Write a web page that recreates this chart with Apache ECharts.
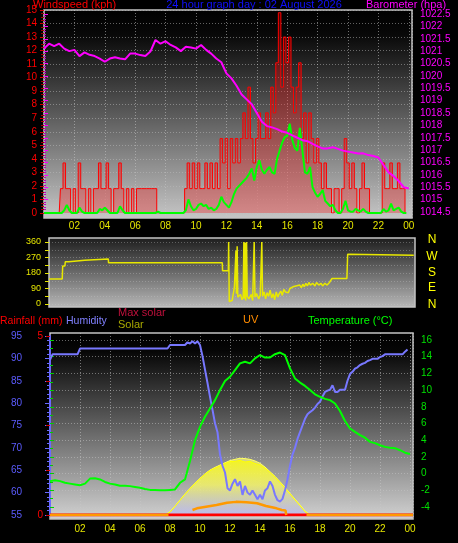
<!DOCTYPE html>
<html><head><meta charset="utf-8">
<script src="https://cdn.jsdelivr.net/npm/echarts@6/dist/echarts.min.js"></script>
<style>html,body{margin:0;padding:0;background:#000;}#c{width:458px;height:543px;}</style>
</head><body><div id="c"></div>
<script>
// ---------- tick labels ----------
const hourTickLabels = ['02','04','06','08','10','12','14','16','18','20','22','00'];
const compassLabels = ['N','W','S','E','N'];

// ---------- top panel: wind (kph), 10-minute values from 00:00 ----------
const windGust = [
 0,0,0,0,0,0,
 0,1.8,3.7,1.8,1.8,0,
 1.8,0,3.7,1.8,1.8,0,
 1.8,0,1.8,1.8,3.7,1.8,
 1.8,3.7,1.8,0,1.8,1.8,
 3.7,1.8,0,1.8,0,1.8,
 0,1.8,1.8,1.8,1.8,1.8,
 1.8,1.8,1.8,0,0,0,
 0,0,0,0,0,0,
 0,0,1.8,3.7,1.8,3.7,
 1.8,3.7,1.8,1.8,3.7,1.8,
 3.7,1.8,3.7,1.8,5.5,3.7,
 5.5,1.8,5.5,3.7,5.5,3.7,
 5.5,7.4,5.5,9.3,5.5,3.7,
 5.5,7.4,5.5,5.5,7.4,5.5,
 9.3,7.4,11.1,14.8,9.3,13,
 11.1,13,9.3,7.4,9.3,11.1,
 5.5,7.4,3.7,7.4,5.5,3.7,
 5.5,3.7,1.8,3.7,1.8,1.8,
 0,1.8,1.8,0,1.8,5.5,
 3.7,1.8,3.7,1.8,0,1.8,
 3.7,1.8,1.8,0,0,0,
 0,0,3.7,1.8,1.8,3.7,
 1.8,1.8,3.7,1.8,1.8,0
];
const windAverage = [
 0,0,0,0,0,0,
 0,0,0.2,0.6,0.2,0,
 0,0,0.4,0.1,0,0,
 0,0,0,0,0.3,0.2,
 0.4,0.2,0,0,0,0,
 0.5,0.2,0,0,0,0,
 0,0,0,0,0,0,
 0,0,0,0.1,0,0,
 0,0,0,0,0,0,
 0,0,0.2,1.0,0.5,0.2,
 0.3,0.6,0.7,0.5,0.6,0.3,
 0.4,0.2,0.3,0.6,1.2,0.8,
 0.6,0.4,0.8,1.4,1.8,2.0,
 2.2,2.4,2.6,2.9,3.3,2.4,
 3.4,3.9,3.2,2.9,3.2,3.4,
 3.0,2.9,4.0,4.6,5.2,5.6,
 5.7,6.6,5.4,4.8,4.6,6.3,
 4.6,3.0,2.9,3.4,1.9,1.5,
 1.2,1.4,1.7,0.9,0.7,0.5,
 0.6,0.2,0,0,0.3,0.9,
 0.2,0.1,0.1,0.3,0.2,0.1,
 0.3,0.1,0,0,0,0,
 0,0,0.3,0.1,0.2,0.7,
 0.2,0.3,0.4,0.1,0,0
];
// barometer (hPa), 20-minute values 00:00 .. 24:00
const barometer = [
 1021.1,1021.3,1021.2,1021.3,1021.1,1021.0,1021.05,1020.8,1020.95,1020.85,1020.8,1020.7,
 1020.57,1020.7,1020.75,1020.7,1020.67,1020.9,1020.9,1020.84,1020.8,1020.98,1021.45,1021.3,
 1021.4,1021.25,1021.15,1021.0,1021.18,1021.15,1021.1,1021.25,1021.05,1020.9,1020.7,1020.55,
 1020.1,1019.9,1019.6,1019.25,1019.05,1018.85,1018.5,1018.15,1017.97,1017.92,1017.85,1017.75,
 1017.7,1017.6,1017.5,1017.4,1017.36,1017.25,1017.15,1017.07,1017.07,1017.12,1017.05,1016.98,
 1016.94,1016.9,1016.86,1016.87,1016.8,1016.76,1016.7,1016.4,1016.1,1015.95,1015.75,1015.5,
 1015.45
];

// ---------- middle panel: wind direction [hour, degrees] ----------
const windDirection = [
 [0,145],[0.87,145],[0.9,221],[1.05,221],[1.07,245],[1.3,245],[1.32,254],[2.35,254],[2.37,262],[3.9,262],
 [3.92,239],[11.4,239],[11.42,193],[11.8,193],
 [11.82,360],[11.86,15],[11.95,10],[12.05,20],[12.1,15],[12.2,100],[12.25,95],[12.3,310],[12.33,60],
 [12.38,335],[12.42,40],[12.5,30],[12.6,55],[12.7,25],[12.78,40],[12.82,360],[12.86,30],[12.9,355],
 [12.94,20],[13.0,360],[13.04,45],[13.15,30],[13.3,55],[13.4,20],[13.5,360],[13.55,40],[13.65,60],
 [13.8,30],[13.9,50],[14.0,360],[14.05,45],
 [14.15,70],[14.25,30],[14.35,65],[14.45,45],[14.55,80],[14.65,35],[14.75,60],[14.85,25],[14.95,70],
 [15.05,40],[15.15,60],[15.25,75],[15.35,50],[15.45,85],[15.55,70],[15.65,80],[15.75,65],[15.85,90],
 [15.95,85],[16.05,100],[16.15,90],[16.25,105],[16.35,95],[16.5,110],[16.6,95],[16.7,115],[16.8,100],
 [16.9,120],[17.0,105],[17.1,125],[17.2,110],[17.35,120],[17.5,105],[17.6,125],[17.75,110],[17.9,120],
 [18.0,105],[18.15,120],[18.3,110],[18.45,125],[18.55,115],[18.62,148],[19.6,148],[19.65,289],[19.75,283],[24,283]
];

// ---------- bottom panel ----------
// humidity (%), 10-minute values from 00:00
const humidity = [
 89.7,90.9,90.9,90.9,90.9,90.9,
 90.9,90.9,90.9,90.9,90.9,90.9,
 92.2,92.2,92.2,92.2,92.2,92.2,
 92.2,92.2,92.2,92.2,92.2,92.2,
 92.2,92.2,92.2,92.2,92.2,92.2,
 92.2,92.2,92.2,92.2,92.2,92.2,
 92.2,92.2,92.2,92.2,92.2,92.2,
 92.2,92.2,92.2,92.2,92.2,92.2,
 93.0,93.0,93.0,93.0,93.0,93.0,
 93.0,93.6,93.3,93.8,93.3,93.8,
 93.0,90.5,87.5,84.5,81.4,78.5,
 75.5,73.5,68.5,66.0,64.5,61.0,
 60.5,62.0,63.0,61.5,62.5,59.5,
 61.5,60.0,59.5,60.5,59.5,58.5,
 59.5,58.5,60.5,61.0,62.5,61.5,
 59.5,58.3,58.0,58.6,60.5,63.0,
 66.0,68.5,70.0,72.0,73.5,75.0,
 76.5,77.5,78.0,78.4,79.0,79.8,
 80.3,81.5,82.5,82.8,83.0,84.0,
 82.5,82.5,83.0,83.0,83.0,85.0,
 86.5,87.0,87.7,88.0,88.5,88.8,
 89.0,89.4,89.6,89.9,89.9,89.9,
 90.3,90.5,90.9,90.9,90.9,90.9,
 90.9,90.9,90.9,90.9,91.5,92.0
];
// temperature (°C), 20-minute values 00:00 .. 24:00
const temperature = [
 -0.9,-0.8,-0.9,-1.1,-1.2,-1.3,-1.4,-1.2,-0.6,-0.55,-0.7,-1.0,
 -1.2,-1.3,-1.45,-1.45,-1.5,-1.6,-1.7,-1.85,-1.95,-1.95,-2.0,-2.0,
 -1.95,-1.9,-1.1,-0.7,1.5,4.0,5.6,6.8,7.8,8.8,10.0,11.1,
 11.6,12.4,13.2,13.4,13.2,13.8,14.2,13.9,13.9,14.3,14.5,14.2,
 12.6,11.4,10.9,10.5,10.0,9.5,9.2,8.95,8.8,8.4,7.5,6.3,
 5.4,5.0,4.6,4.3,3.8,3.65,3.4,3.2,3.1,3.05,2.8,2.5,
 2.35
];
// solar radiation (W/m²), 20-minute values from 07:40
const solarStartHour = 7 + 40/60;
const maxSolar = [0,18,50,84,118,149,178,205,230,251,266,279,292,304,311,317,315,311,302,289,268,242,216,186,154,121,88,56,22,0];
const solar    = [0,15,48,82,115,147,176,203,228,249,262,275,288,298,300,305,296,300,288,280,262,238,212,182,150,118,84,52,18,0];
const sunEvents = [7.67, 17.44];
// UV index [hour, value]; null = not drawn
const uvIndex = [
 [0,0],[7.9,0],[7.95,null],[9.5,0.42],[9.8,0.56],[10.4,0.7],[11.1,0.84],[11.8,1.03],[12.4,1.1],
 [13.1,1.06],[13.8,0.98],[14.4,0.75],[15.1,0.56],[15.45,0.42],[15.7,0.38],[15.75,0],[15.8,null],
 [17.1,0],[24.2,0]
];
// rainfall (mm) [hour, value]
const rainfall = [[0,0],[24.2,0]];

// ---------- helpers ----------
function series10(v){ return v.map((y,i)=>[i/6, y]); }
function series20(v, start){ return v.map((y,i)=>[(start||0)+i/3, y]); }
function nulls(d){ return d.map(p=>[p[0], p[1]===null?'-':p[1]]); }
const FONT = '"Liberation Sans", Arial, sans-serif';
function hourFmt(v){ const k=Math.round(v/2); if(Math.abs(v-2*k)>0.01||k<1||k>12) return ''; return hourTickLabels[k-1]; }
function numFmt(v){ return (Math.round(v*10)/10).toString(); }
function grad(stops){ return {type:'linear',x:0,y:0,x2:0,y2:1,colorStops:stops.map(s=>({offset:s[0],color:s[1]}))}; }
const dotted = c => ({show:true, lineStyle:{color:c, type:[1,2], width:1}});

const chart = echarts.init(document.getElementById('c'), null, {renderer:'canvas'});
const frame = {show:true, borderColor:'#c4c4c4', borderWidth:1.5};
const hidden = (g,min,max) => ({gridIndex:g, type:'value', show:false, min:min, max:max});

chart.setOption({
 animation:false,
 backgroundColor:'#000',
 grid:[
  Object.assign({left:44,right:46,top:10,bottom:325, backgroundColor:grad([[0,'#000'],[0.12,'#080808'],[1,'#c6c6c6']])}, frame), //0 top frame
  {left:44,right:46,top:10,bottom:330}, //1 wind
  {left:44,right:46,top:14,bottom:331}, //2 baro
  Object.assign({left:49,right:43,top:238,bottom:236, backgroundColor:grad([[0,'#1c1c1c'],[1,'#b8b8b8']])}, frame), //3 mid frame
  {left:49,right:43,top:242,bottom:239}, //4 direction
  Object.assign({left:50,right:45,top:333,bottom:24, backgroundColor:grad([[0,'#000'],[0.1,'#060606'],[1,'#d2d2d2']])}, frame), //5 bottom frame
  {left:50,right:45,top:336,bottom:28}, //6 humidity etc
  {left:50,right:45,top:340,bottom:36}  //7 temperature
 ],
 xAxis:[
  {gridIndex:0,type:'value',min:0,max:24.21,interval:2,axisLine:{show:false},axisTick:{show:false},
   axisLabel:{color:'#e6e600',fontSize:10,fontFamily:FONT,margin:3,formatter:hourFmt},splitLine:dotted('rgba(200,200,200,0.55)')},
  hidden(1,0,24.21), hidden(2,0,24.21),
  hidden(3,0,24.08), hidden(4,0,24.08),
  {gridIndex:5,type:'value',min:0,max:24.2,interval:2,axisLine:{show:false},axisTick:{show:false},
   axisLabel:{color:'#e6e600',fontSize:10,fontFamily:FONT,margin:5,formatter:hourFmt},splitLine:dotted('rgba(200,200,200,0.55)')},
  hidden(6,0,24.2), hidden(7,0,24.2)
 ],
 yAxis:[
  hidden(0,0,1),
  {gridIndex:1,type:'value',min:0,max:15,interval:1,position:'left',axisLine:{show:false},
   axisTick:{show:true,length:4,lineStyle:{color:'#d00000'}},minorTick:{show:true,splitNumber:4,length:3,lineStyle:{color:'#a00000'}},
   axisLabel:{color:'#ff0000',fontSize:10,fontFamily:FONT,margin:7,formatter:numFmt},splitLine:dotted('rgba(190,190,190,0.5)')},
  {gridIndex:2,type:'value',min:1014.5,max:1022.5,interval:0.5,position:'right',axisLine:{show:false},
   axisTick:{show:true,length:4,lineStyle:{color:'#ff00ff'}},minorTick:{show:true,splitNumber:5,length:2,lineStyle:{color:'#c000c0'}},
   axisLabel:{color:'#ff00ff',fontSize:10,fontFamily:FONT,margin:8,formatter:numFmt},splitLine:{show:false}},
  hidden(3,0,1),
  {gridIndex:4,type:'value',min:0,max:360,interval:45,position:'left',axisLine:{show:false},
   axisTick:{show:true,length:4,lineStyle:{color:'#e6e600'}},
   axisLabel:{color:'#e6e600',fontSize:9,fontFamily:FONT,margin:8,formatter:v=>(v%90===0?String(v):'')},
   splitLine:dotted('rgba(200,200,200,0.35)')},
  hidden(5,0,1),
  {gridIndex:6,type:'value',min:55,max:95,interval:5,position:'left',offset:20,
   axisLine:{show:true,lineStyle:{color:'#6a6aff',width:2}},axisTick:{show:true,length:5,lineStyle:{color:'#6a6aff'}},
   minorTick:{show:true,splitNumber:5,length:3,lineStyle:{color:'#6a6aff'}},
   axisLabel:{color:'#5c5cff',fontSize:10,fontFamily:FONT,margin:8,formatter:numFmt},splitLine:{show:false}},
  {gridIndex:6,type:'value',min:0,max:5,interval:1.25,position:'left',offset:0,axisLine:{show:false},
   axisTick:{show:true,length:4,lineStyle:{color:'#d00000'}},
   axisLabel:{color:'#ff0000',fontSize:10,fontFamily:FONT,margin:7,formatter:v=>(v===0||v===5?String(v):'')},splitLine:{show:false}},
  hidden(6,0,1000),
  hidden(6,0,15),
  {gridIndex:7,type:'value',min:-4,max:16,interval:2,position:'right',axisLine:{show:false},
   axisTick:{show:true,length:4,lineStyle:{color:'#00d000'}},minorTick:{show:true,splitNumber:2,length:3,lineStyle:{color:'#00d000'}},
   axisLabel:{color:'#00e000',fontSize:10,fontFamily:FONT,margin:8,formatter:numFmt},splitLine:dotted('rgba(200,200,200,0.5)')}
 ],
 series:[
  {name:'Wind gust',type:'line',xAxisIndex:1,yAxisIndex:1,data:series10(windGust),step:'middle',showSymbol:false,z:2,
   lineStyle:{color:'#ff0000',width:1},areaStyle:{color:'rgba(255,0,0,0.42)'}},
  {name:'Wind speed',type:'line',xAxisIndex:1,yAxisIndex:1,data:series10(windAverage),showSymbol:false,z:3,
   lineStyle:{color:'#00ff00',width:2}},
  {name:'Barometer',type:'line',xAxisIndex:2,yAxisIndex:2,data:series20(barometer),showSymbol:false,z:4,
   lineStyle:{color:'#ff00ff',width:2}},
  {name:'Wind direction',type:'line',xAxisIndex:4,yAxisIndex:4,data:windDirection,showSymbol:false,z:3,
   lineStyle:{color:'#e8e800',width:1.5}},
  {name:'Max solar',type:'line',xAxisIndex:6,yAxisIndex:8,data:series20(maxSolar,solarStartHour),showSymbol:false,z:1,
   lineStyle:{color:'#ffff60',width:1},areaStyle:{color:grad([[0,'rgba(255,255,120,0.95)'],[1,'rgba(215,215,255,0.5)']])}},
  {name:'Solar',type:'line',xAxisIndex:6,yAxisIndex:8,data:series20(solar,solarStartHour),showSymbol:false,z:2,
   lineStyle:{color:'#ffff00',width:1},areaStyle:{color:grad([[0,'#ffff00'],[0.45,'rgba(250,250,70,0.85)'],[1,'rgba(160,160,255,0.6)']])},
   markLine:{silent:true,symbol:'none',label:{show:false},lineStyle:{color:'#ffff00',type:[2,2],width:1.5},
     data:sunEvents.map(h=>[{coord:[h,-25]},{coord:[h,85]}])}},
  {name:'Rainfall',type:'line',xAxisIndex:6,yAxisIndex:7,data:rainfall,showSymbol:false,z:3,
   lineStyle:{color:'#ff0000',width:3}},
  {name:'UV',type:'line',xAxisIndex:6,yAxisIndex:9,data:nulls(uvIndex),showSymbol:false,connectNulls:false,z:4,
   lineStyle:{color:'#ff9900',width:2.5}},
  {name:'Humidity',type:'line',xAxisIndex:6,yAxisIndex:6,data:series10(humidity),showSymbol:false,z:5,
   lineStyle:{color:'#7878ff',width:2}},
  {name:'Temperature',type:'line',xAxisIndex:7,yAxisIndex:10,data:series20(temperature),showSymbol:false,z:6,
   lineStyle:{color:'#00ff00',width:2}}
 ],
 graphic:[
  {type:'text',x:33,y:-1,style:{text:'Windspeed (kph)',fill:'#ff0000',font:'11px '+FONT,align:'left',verticalAlign:'top'}},
  {type:'text',x:254,y:-1,style:{text:'24 hour graph day : 02 August 2026',fill:'#1010ff',font:'11px '+FONT,align:'center',verticalAlign:'top'}},
  {type:'text',x:366,y:-1,style:{text:'Barometer (hpa)',fill:'#ff00ff',font:'11px '+FONT,align:'left',verticalAlign:'top'}},
  ...compassLabels.map((t,i)=>({type:'text',x:432,y:[240,257,273,288,305][i],style:{text:t,fill:'#ffff00',font:'12px '+FONT,align:'center',verticalAlign:'middle'}})),
  {type:'text',x:0,y:321,style:{text:'Rainfall (mm)',fill:'#ff0000',font:'10.5px '+FONT,align:'left',verticalAlign:'middle'}},
  {type:'text',x:66,y:321,style:{text:'Humidity',fill:'#8080ff',font:'10.5px '+FONT,align:'left',verticalAlign:'middle'}},
  {type:'text',x:118,y:313,style:{text:'Max solar',fill:'#c0103c',font:'11px '+FONT,align:'left',verticalAlign:'middle'}},
  {type:'text',x:118,y:325,style:{text:'Solar',fill:'#a8a800',font:'11px '+FONT,align:'left',verticalAlign:'middle'}},
  {type:'text',x:243,y:320,style:{text:'UV',fill:'#ff8c00',font:'11px '+FONT,align:'left',verticalAlign:'middle'}},
  {type:'text',x:308,y:321,style:{text:'Temperature (°C)',fill:'#00ff00',font:'11px '+FONT,align:'left',verticalAlign:'middle'}}
 ]
});
</script>
</body></html>
